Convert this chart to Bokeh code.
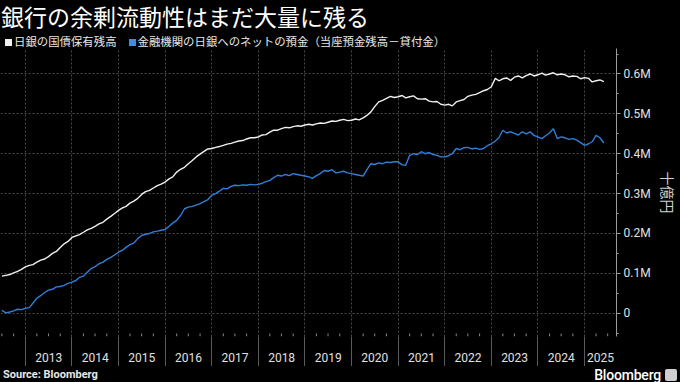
from datetime import datetime
from bokeh.plotting import figure
from bokeh.models import Range1d, FixedTicker, ColumnDataSource, Div
from bokeh.layouts import column
from bokeh.embed import file_html
from bokeh.resources import INLINE

# ---- data (兆円 = 0.001M 十億円), monthly from 2012-07 to 2025-06 ----
jgb_holdings = [
    93, 95, 97, 101, 105, 110,
    116, 120, 122, 128, 133, 136, 142, 150, 155, 165, 174, 180,
    190, 194, 197, 203, 209, 213, 218, 224, 228, 236, 243, 250,
    258, 264, 268, 276, 281, 288, 298, 305, 308, 314, 320, 324,
    329, 337, 342, 354, 361, 366, 375, 383, 392, 399, 406, 412,
    413, 416, 418, 421, 424, 426, 429, 432, 433, 437, 440, 440,
    442, 447, 448, 454, 459, 459, 463, 466, 465, 468, 470, 469,
    472, 474, 472, 475, 477, 476, 479, 482, 481, 484, 486, 483,
    484, 487, 485, 490, 496, 505, 518, 530, 534, 539, 544, 541,
    543, 546, 540, 543, 545, 538, 537, 538, 532, 530, 531, 524,
    522, 524, 520, 530, 533, 536, 544, 547, 549, 553, 558, 561,
    568, 589, 583, 588, 590, 584, 592, 595, 590, 596, 600, 595,
    598, 602, 597, 600, 603, 598, 600, 598, 593, 595, 594, 588,
    591, 589, 580, 583, 585, 581,
]
net_deposits = [
    7, 1, 3, 6, 10, 9,
    12, 14, 25, 38, 44, 52, 58, 60, 66, 67, 70, 75,
    78, 82, 90, 93, 103, 112, 117, 124, 128, 135, 140, 146,
    153, 158, 165, 172, 176, 187, 195, 198, 200, 204, 206, 208,
    210, 218, 226, 233, 245, 262, 266, 268, 271, 275, 280, 285,
    296, 300, 306, 313, 312, 318, 321, 320, 322, 321, 323, 322,
    323, 326, 330, 333, 340, 346, 344, 348, 345, 350, 348, 346,
    344, 342, 338, 345, 350, 358, 356, 360, 352, 354, 356, 352,
    350, 348, 346, 344, 360, 375, 373, 377, 375, 379, 378, 380,
    380, 372, 371, 396, 400, 398, 405, 400, 403, 398, 396, 392,
    392, 395, 400, 413, 410, 415, 416, 412, 414, 411, 413, 420,
    425, 432, 440, 459, 452, 455, 451, 447, 455, 450, 455, 446,
    442, 438, 445, 452, 463, 438, 442, 440, 436, 438, 434, 428,
    421, 425, 430, 446, 440, 427,
]
years = list(range(2013, 2026))
year_labels = [str(y) for y in years]
y_ticks = [0, 100, 200, 300, 400, 500, 600]
y_tick_labels = ["0", "0.1M", "0.2M", "0.3M", "0.4M", "0.5M", "0.6M"]
series_names = ["日銀の国債保有残高", "金融機関の日銀へのネットの預金（当座預金残高－貸付金）"]
title_text = "銀行の余剰流動性はまだ大量に残る"
source_text = "Source: Bloomberg"
unit_label = "十億円"

EPOCH = datetime(1970, 1, 1)
def ms(d):
    return (d - EPOCH).total_seconds() * 1000.0

dates = []
yy, mm = 2012, 7
for _ in range(len(jgb_holdings)):
    dates.append(datetime(yy, mm, 1))
    mm += 1
    if mm > 12:
        mm, yy = 1, yy + 1

src = ColumnDataSource(dict(date=dates, jgb=jgb_holdings, net=net_deposits))

x0, x1 = datetime(2012, 6, 20), datetime(2025, 9, 8)
y0, y1 = -58.4, 663.9
FW, FH = 620, 288

WHITE = "#f0f0f0"
BLUE = "#2f7fd8"
GRID = "#4a4a4a"
TXT = "#e0e0e0"
BG = "black"

p = figure(width=680, height=318, x_axis_type="datetime", y_axis_location="right",
           x_range=Range1d(x0, x1), y_range=Range1d(y0, y1),
           output_backend="svg", toolbar_location=None,
           background_fill_color=BG, border_fill_color=BG,
           outline_line_color=None,
           min_border_left=0, min_border_right=60, min_border_top=0, min_border_bottom=30)

p.line("date", "jgb", source=src, color=WHITE, line_width=1.4)
p.line("date", "net", source=src, color=BLUE, line_width=1.4)

# grid
year_ms = [ms(datetime(y, 1, 1)) for y in years]
quarter_dates = [datetime(y, m, 1) for y in range(2012, 2026) for m in (4, 7, 10)
                 if x0 < datetime(y, m, 1) < x1]
p.xgrid.ticker = FixedTicker(ticks=year_ms)
p.xgrid.grid_line_color = GRID
p.xgrid.grid_line_dash = "2 2"
p.ygrid.ticker = FixedTicker(ticks=y_ticks)
p.ygrid.grid_line_color = GRID
p.ygrid.grid_line_dash = "2 2"

# small quarterly ticks along the bottom edge of the frame
ypx = (y1 - y0) / FH
p.segment(x0=quarter_dates, x1=quarter_dates, y0=[y0] * len(quarter_dates),
          y1=[y0 + 3 * ypx] * len(quarter_dates), line_color="#8a8a8a", line_width=1)

# bottom axis: year labels centred in each year, separators at year starts
label_ms = []
for y in years:
    a = datetime(y, 1, 1)
    b = min(datetime(y + 1, 1, 1), x1)
    label_ms.append((ms(a) + ms(b)) / 2)
xa = p.xaxis[0]
xa.ticker = FixedTicker(ticks=label_ms, minor_ticks=year_ms)
xa.major_label_overrides = {t: l for t, l in zip(label_ms, year_labels)}
xa.major_label_text_color = TXT
xa.major_label_text_font = "Roboto"
xa.major_label_text_font_size = "12px"
xa.major_label_standoff = -16
xa.axis_line_color = None
xa.major_tick_in = 0
xa.major_tick_out = 0
xa.major_tick_line_color = None
xa.minor_tick_in = 0
xa.minor_tick_out = 32
xa.minor_tick_line_color = "#5a5a5a"

# right axis
ya = p.yaxis[0]
ya.ticker = FixedTicker(ticks=y_ticks, minor_ticks=[t + 50 for t in [-100] + y_ticks])
ya.major_label_overrides = {t: l for t, l in zip(y_ticks, y_tick_labels)}
ya.major_label_text_color = TXT
ya.major_label_text_font = "Roboto"
ya.major_label_text_font_size = "12px"
ya.major_label_standoff = 3
ya.axis_line_color = "#9a9a9a"
ya.major_tick_line_color = "#9a9a9a"
ya.minor_tick_line_color = "#9a9a9a"
ya.major_tick_in = 0
ya.major_tick_out = 4
ya.minor_tick_in = 0
ya.minor_tick_out = 2
ya.axis_label = unit_label
ya.axis_label_text_font = "Noto Sans CJK JP"
ya.axis_label_text_font_style = "normal"
ya.axis_label_text_font_size = "14px"
ya.axis_label_text_color = "#d0d0d0"
ya.axis_label_standoff = 4

# header and footer as HTML blocks
title_div = Div(text=title_text, width=680, height=34, margin=(0, 0, 0, 0),
                styles={"color": "white", "background-color": BG,
                        "font-family": "Noto Sans CJK JP", "font-size": "23px",
                        "line-height": "32px", "padding-left": "1px",
                        "white-space": "nowrap", "overflow": "hidden"})

def swatch(color, ml):
    return (f'<span style="display:inline-block;width:7px;height:7px;background:{color};'
            f'margin:0 2px 1px {ml}px;vertical-align:middle"></span>')

legend_html = (swatch(WHITE, 5) + f'<span>{series_names[0]}</span>' +
               swatch("#3a8ee8", 12) + f'<span>{series_names[1]}</span>')
legend_div = Div(text=legend_html, width=680, height=14, margin=(0, 0, 0, 0),
                 styles={"color": "#e8e8e8", "background-color": BG,
                         "font-family": "Noto Sans CJK JP", "font-size": "11.4px",
                         "line-height": "14px", "white-space": "nowrap",
                         "overflow": "hidden"})

footer_html = (
    '<div style="display:flex;justify-content:space-between;align-items:center;'
    'width:680px;height:16px;line-height:14px">'
    f'<span style="font-family:Roboto;font-weight:bold;font-size:11px;color:#e8e8e8;'
    f'padding-left:3px;padding-top:1px">{source_text}</span>'
    '<span style="display:flex;align-items:center;padding-right:3px">'
    '<span style="font-family:Roboto;font-weight:500;font-size:14px;color:white;'
    'letter-spacing:-0.2px">Bloomberg</span>'
    '<span style="display:inline-block;width:12px;height:12px;background:#cfcfcf;'
    'border-radius:2px;margin-left:4px"></span></span></div>'
)
footer_div = Div(text=footer_html, width=680, height=16, margin=(0, 0, 0, 0),
                 styles={"background-color": BG, "overflow": "hidden"})

layout = column(title_div, legend_div, p, footer_div, spacing=0,
                styles={"background-color": BG})

open("out.html", "w").write(file_html(layout, INLINE))
